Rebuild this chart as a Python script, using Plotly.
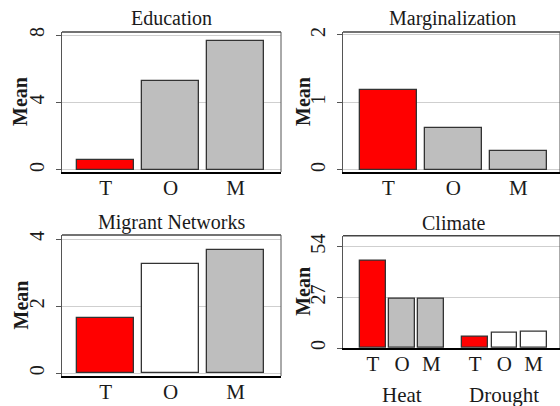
import plotly.graph_objects as go

# ---- data -------------------------------------------------------------
groups = ["T", "O", "M"]

education = [0.62, 5.28, 7.65]
marginalization = [1.18, 0.62, 0.28]
migrant_networks = [1.65, 3.25, 3.67]
heat = [46.5, 26.5, 26.5]
drought = [6.2, 8.0, 8.7]

RED = "#ff0000"
GRAY = "#bebebe"
WHITE = "#ffffff"

edu_colors = [RED, GRAY, GRAY]
marg_colors = [RED, GRAY, GRAY]
mig_colors = [RED, WHITE, GRAY]
heat_colors = [RED, GRAY, GRAY]
drought_colors = [RED, WHITE, WHITE]

edu_ticks = [0, 4, 8]
marg_ticks = [0, 1, 2]
mig_ticks = [0, 2, 4]
climate_ticks = [0, 27, 54]

FONT = "Liberation Serif, Times New Roman, serif"
W, H = 560, 406

fig = go.Figure()

pos3 = [1, 2, 3]
heat_pos = [1, 2, 3]
drought_pos = [4.5, 5.5, 6.5]

bar_line = dict(color="#333333", width=1.3)


def add_bars(x, y, colors, xa, ya):
    fig.add_trace(go.Bar(
        x=x, y=y, width=0.88, marker=dict(color=colors, line=bar_line),
        xaxis=xa, yaxis=ya, showlegend=False, hoverinfo="skip"))


add_bars(pos3, education, edu_colors, "x", "y")
add_bars(pos3, marginalization, marg_colors, "x2", "y2")
add_bars(pos3, migrant_networks, mig_colors, "x3", "y3")
add_bars(heat_pos, heat, heat_colors, "x4", "y4")
add_bars(drought_pos, drought, drought_colors, "x4", "y4")


def px_x(a, b):
    return [a / W, b / W]


def px_y(top, bottom):
    return [1 - bottom / H, 1 - top / H]


panels = [
    # key, x-domain, y-domain, x-range, y-range, y ticks, x tickvals, x ticktext, title x
    ("", px_x(62, 281), px_y(32, 172), [0.33, 3.70], [-0.12, 8.18], edu_ticks, pos3, groups, 20),
    ("2", px_x(343, 560), px_y(32, 172), [0.30, 3.64], [-0.03, 2.044], marg_ticks, pos3, groups, 303),
    ("3", px_x(62, 281), px_y(235, 376), [0.33, 3.70], [-0.08, 4.12], mig_ticks, pos3, groups, 20),
    ("4", px_x(343, 560), px_y(235.7, 348), [-0.02, 7.40], [0, 59.9], climate_ticks,
     heat_pos + drought_pos, groups + groups, 303),
]

shapes = []
annotations = []
for key, xd, yd, xr, yr, yt, xt, xtt, tx in panels:
    fig.layout["xaxis" + key] = dict(
        domain=xd, range=xr, anchor="y" + key, automargin=False,
        tickmode="array", tickvals=xt, ticktext=xtt,
        showgrid=False, zeroline=False,
        showline=True, linecolor="#000000", linewidth=2, mirror=False,
        ticks="", ticklabelstandoff=-4,
        tickfont=dict(family=FONT, size=21, color="#1a1a1a"),
    )
    fig.layout["yaxis" + key] = dict(
        domain=yd, range=yr, anchor="x" + key, automargin=False,
        tickmode="array", tickvals=yt, tickangle=-90,
        showgrid=True, gridcolor="#cfcfcf", gridwidth=1, zeroline=False,
        showline=True, linecolor="#555555", linewidth=1, mirror=False,
        ticks="outside", ticklen=5, tickcolor="#555555", ticklabelstandoff=4,
        tickfont=dict(family=FONT, size=20, color="#1a1a1a"),
    )
    xref = ("x" + key) + " domain"
    yref = ("y" + key) + " domain"
    # top edge of the frame
    shapes.append(dict(type="line", xref=xref, yref=yref, x0=0, x1=1, y0=1, y1=1,
                       line=dict(color="#444444", width=1.5)))
    # right edge of the frame
    shapes.append(dict(type="line", xref=xref, yref=yref, x0=1, x1=1, y0=0, y1=1,
                       line=dict(color="#555555", width=1)))
    # y-axis title
    annotations.append(dict(text="<b>Mean</b>", textangle=-90,
                            x=tx / W, xref="paper", y=0.5, yref=yref,
                            xanchor="center", yanchor="middle", showarrow=False,
                            font=dict(family=FONT, size=20, color="#1a1a1a")))

titles = [
    ("Education", 171.5, 18),
    ("Marginalization", 452, 18),
    ("Migrant Networks", 171, 222.5),
    ("Climate", 453, 222.5),
]
for text, cx, cy in titles:
    annotations.append(dict(text=text, x=cx / W, y=1 - cy / H, xref="paper", yref="paper",
                            xanchor="center", yanchor="middle", showarrow=False,
                            font=dict(family=FONT, size=20, color="#1a1a1a")))

# group labels under the climate panel
for text, xc in [("Heat", sum(heat_pos) / 3), ("Drought", sum(drought_pos) / 3)]:
    annotations.append(dict(text=text, x=xc, xref="x4", y=1 - 395 / H, yref="paper",
                            xanchor="center", yanchor="middle", showarrow=False,
                            font=dict(family=FONT, size=21, color="#1a1a1a")))

fig.update_layout(
    width=W, height=H,
    margin=dict(l=0, r=0, t=0, b=0),
    paper_bgcolor="white", plot_bgcolor="white",
    barmode="overlay", bargap=0,
    shapes=shapes, annotations=annotations,
)

fig.write_html("out.html")
